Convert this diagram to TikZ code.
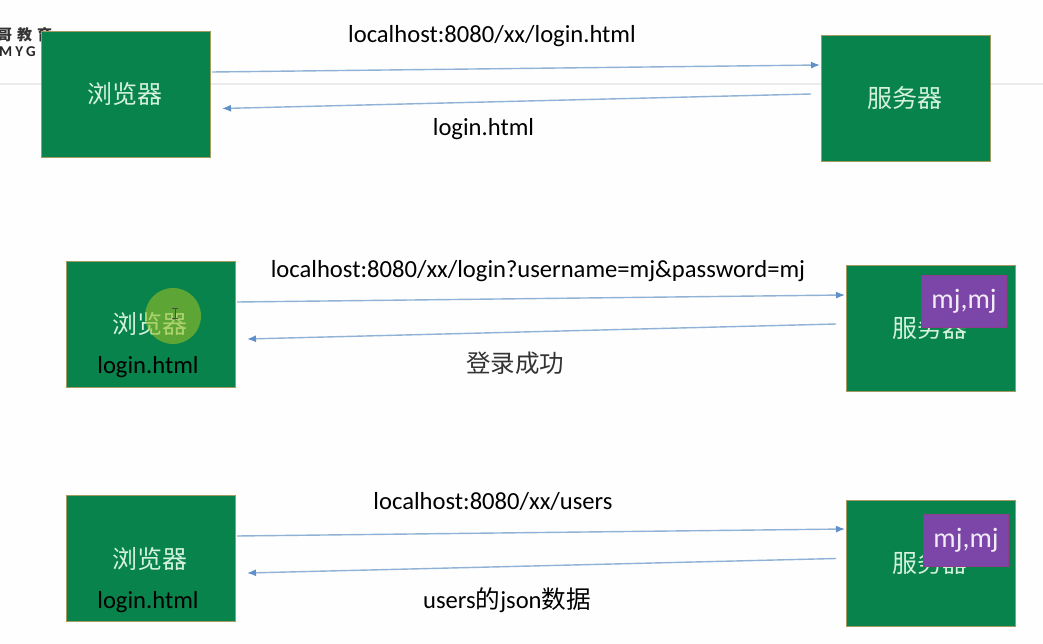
\documentclass[tikz,border=0pt]{standalone}
\usepackage{fontspec}
\setmainfont{Carlito}
\newfontfamily\cjk{Noto Sans CJK SC}
\usetikzlibrary{arrows.meta}
\definecolor{boxg}{HTML}{08834B}
\definecolor{boxe}{HTML}{A39A62}
\definecolor{arr}{HTML}{8FB2D6}
\definecolor{arh}{HTML}{5F90C8}
\definecolor{pur}{HTML}{7B46A8}
\definecolor{mint}{HTML}{D4F2DE}
\definecolor{spot}{HTML}{96BE28}
\tikzset{
 x=1pt,y=-1pt,
 gbox/.style={draw=boxe,line width=0.9pt,fill=boxg,minimum width=169pt,minimum height=126pt,inner sep=0pt,anchor=north west},
 cn/.style={font=\cjk\fontsize{25}{25}\selectfont,text=mint,inner sep=0pt},
 lbl/.style={font=\fontsize{24.6}{25}\selectfont,text=black,inner sep=0pt},
 pbox/.style={draw=pur!85!red,line width=0.6pt,fill=pur,text=white!90!pur,font=\fontsize{28}{28}\selectfont,minimum width=85pt,minimum height=52pt,inner sep=0pt},
 link/.style={draw=arr,line width=1.4pt,-{Latex[length=9pt,width=7pt,color=arh]}},
}
\begin{document}
\begin{tikzpicture}
\useasboundingbox (0,0) rectangle (1043,644);
\fill[white!99!gray] (0,0) rectangle (1043,644);
\coordinate (hl) at (0,84); \coordinate (hr) at (1043,84);
\draw[black!8,line width=1.2pt] (hl) -- (hr);
\node[font=\cjk\bfseries\fontsize{15}{15}\selectfont,text=black!80,anchor=west,inner sep=0pt] (logoa) at (-3,35) {哥\hspace{5pt}教\hspace{5pt}育};
\node[font=\bfseries\fontsize{15}{15}\selectfont,text=black!85,anchor=west,inner sep=0pt] (logob) at (-1,52) {M\hspace{3pt}Y\hspace{3pt}G};
% row 1
\node[gbox] (b1) at (41,31) {};
\node[gbox] (s1) at (821,35) {};
\node[cn] (b1t) at (125,94) {浏览器};
\node[cn] (s1t) at (905,98) {服务器};
\coordinate (a1s) at (212,72); \coordinate (a1e) at (820,65);
\coordinate (r1s) at (811,94); \coordinate (r1e) at (222,108.500);
\draw[link] (a1s) -- (a1e);
\draw[link] (r1s) -- (r1e);
\node[lbl] (l1) at (492,36.500) {localhost:8080/xx/login.html};
\node[lbl] (l1b) at (483.500,129) {login.html};
% row 2
\node[gbox] (b2) at (66,261) {};
\node[gbox] (s2) at (846,265) {};
\node[cn] (b2t) at (150,324) {浏览器};
\fill[spot,opacity=0.6] (173,316) circle (28);
\node[lbl] (b2l) at (148,367) {login.html};
\draw[black!70,line width=0.7pt] (172,308.500) -- (178,308.500) (175,308.500) -- (175,318.500) (172,318.500) -- (178,318.500);
\node[cn] (s2t) at (930,328) {服务器};
\node[pbox] (p2) at (964,301) {\raisebox{-1.500pt}{mj,mj}};
\coordinate (a2s) at (237,302); \coordinate (a2e) at (845,295);
\coordinate (r2s) at (836,324); \coordinate (r2e) at (247,339);
\draw[link] (a2s) -- (a2e);
\draw[link] (r2s) -- (r2e);
\node[lbl] (l2) at (538,271) {localhost:8080/xx/login?username=mj\&password=mj};
\node[font=\cjk\fontsize{24.500}{25}\selectfont,text=black!80,inner sep=0pt] (l2b) at (515,363) {登录成功};
% row 3
\node[gbox] (b3) at (66,495) {};
\node[gbox] (s3) at (846,500) {};
\node[cn] (b3t) at (150,559) {浏览器};
\node[lbl] (b3l) at (148,602) {login.html};
\node[cn] (s3t) at (930,563) {服务器};
\node[pbox] (p3) at (966,540) {\raisebox{-1.500pt}{mj,mj}};
\coordinate (a3s) at (237,536); \coordinate (a3e) at (845,529);
\coordinate (r3s) at (836,558.500); \coordinate (r3e) at (247,573);
\draw[link] (a3s) -- (a3e);
\draw[link] (r3s) -- (r3e);
\node[lbl] (l3) at (493,501) {localhost:8080/xx/users};
\node[font=\fontsize{24.6}{25}\selectfont,text=black,inner sep=0pt] (l3b) at (507,600.500) {users{\cjk 的}json{\cjk 数据}};
\end{tikzpicture}
\end{document}
